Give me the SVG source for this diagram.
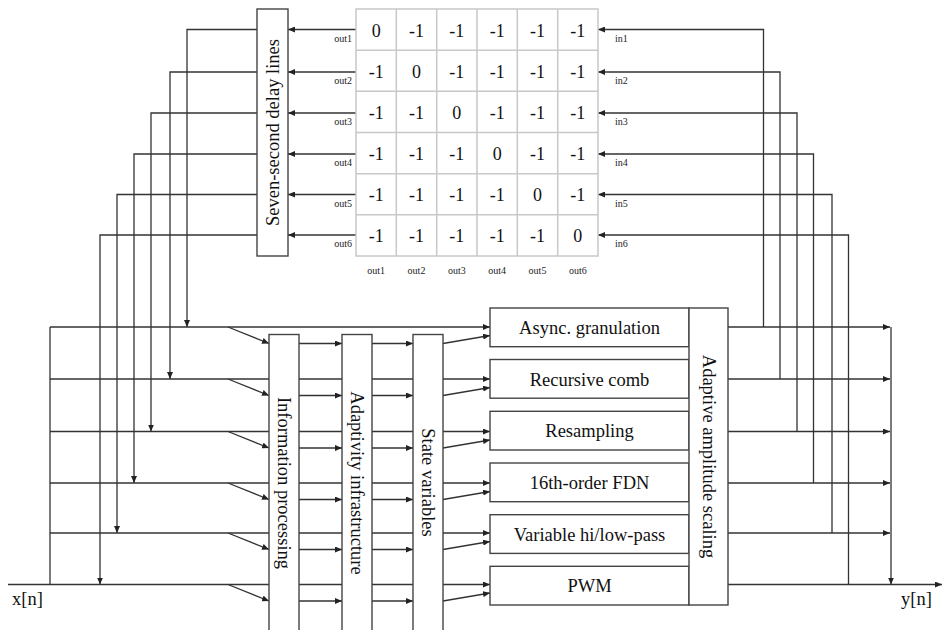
<svg xmlns="http://www.w3.org/2000/svg" width="943" height="630" viewBox="0 0 943 630">
<style>
  .box { fill: #fff; stroke: #444; stroke-width: 1.4; }
  .grid { fill: none; stroke: #c8c8c8; stroke-width: 1.5; }
  .ln { fill: none; stroke: #333; stroke-width: 1.3; }
  .arr { marker-end: url(#ah); }
  .lbl { font-family: "Liberation Serif", "Times New Roman", serif; font-size: 18.5px; fill: #111; text-anchor: middle; }
  .io { font-family: "Liberation Serif", "Times New Roman", serif; font-size: 18.5px; fill: #111; text-anchor: start; }
  .num { font-family: "Liberation Serif", "Times New Roman", serif; font-size: 18px; fill: #111; text-anchor: middle; }
  .sm { font-family: "Liberation Serif", "Times New Roman", serif; font-size: 10px; fill: #222; }
</style>
<defs>
  <marker id="ah" markerUnits="userSpaceOnUse" markerWidth="8" markerHeight="6" refX="7" refY="3" orient="auto">
    <path d="M0,0 L7,3 L0,6 z" fill="#222"/>
  </marker>
</defs>
<rect width="943" height="630" fill="#fff"/>

<g id="connectors">
  <!-- delay outputs down to buses -->
  <path class="ln arr" d="M257,29.5 H187 V327"/>
  <path class="ln arr" d="M257,72 H170 V379"/>
  <path class="ln arr" d="M257,113 H151 V431.5"/>
  <path class="ln arr" d="M257,154 H134 V483"/>
  <path class="ln arr" d="M257,194.5 H117 V533"/>
  <path class="ln arr" d="M257,235 H100 V584.5"/>
  <!-- matrix to delay lines -->
  <path class="ln arr" d="M356,29.5 H288"/>
  <path class="ln arr" d="M356,72 H288"/>
  <path class="ln arr" d="M356,113 H288"/>
  <path class="ln arr" d="M356,154 H288"/>
  <path class="ln arr" d="M356,194.5 H288"/>
  <path class="ln arr" d="M356,235 H288"/>
  <!-- outputs back to matrix inputs -->
  <path class="ln arr" d="M763.5,327 V29.5 H598"/>
  <path class="ln arr" d="M780,379 V72 H598"/>
  <path class="ln arr" d="M797,431.5 V113 H598"/>
  <path class="ln arr" d="M813.5,483 V154 H598"/>
  <path class="ln arr" d="M832,533 V194.5 H598"/>
  <path class="ln arr" d="M848.5,584.5 V235 H598"/>
  <!-- left bus -->
  <path class="ln" d="M50,327 V584.5"/>
  <path class="ln arr" d="M50,327 H490"/>
  <path class="ln" d="M50,379 H269"/>
  <path class="ln" d="M50,431.5 H269"/>
  <path class="ln" d="M50,483 H269"/>
  <path class="ln" d="M50,533 H269"/>
  <path class="ln" d="M8,584.5 H269"/>
  <!-- diagonals into information processing -->
  <path class="ln arr" d="M228,327 L269,343.5"/>
  <path class="ln arr" d="M228,379 L269,395.5"/>
  <path class="ln arr" d="M228,431.5 L269,448"/>
  <path class="ln arr" d="M228,483 L269,499.5"/>
  <path class="ln arr" d="M228,533 L269,549.5"/>
  <path class="ln arr" d="M228,584.5 L269,601"/>
  <!-- info -> adaptivity -->
  <path class="ln" d="M299,379 H342"/>
  <path class="ln" d="M299,431.5 H342"/>
  <path class="ln" d="M299,483 H342"/>
  <path class="ln" d="M299,533 H342"/>
  <path class="ln" d="M299,584.5 H342"/>
  <path class="ln arr" d="M299,343.5 H342"/>
  <path class="ln arr" d="M299,395.5 H342"/>
  <path class="ln arr" d="M299,448 H342"/>
  <path class="ln arr" d="M299,499.5 H342"/>
  <path class="ln arr" d="M299,549.5 H342"/>
  <path class="ln arr" d="M299,601 H342"/>
  <!-- adaptivity -> state -->
  <path class="ln" d="M372,379 H413"/>
  <path class="ln" d="M372,431.5 H413"/>
  <path class="ln" d="M372,483 H413"/>
  <path class="ln" d="M372,533 H413"/>
  <path class="ln" d="M372,584.5 H413"/>
  <path class="ln arr" d="M372,343.5 H413"/>
  <path class="ln arr" d="M372,395.5 H413"/>
  <path class="ln arr" d="M372,448 H413"/>
  <path class="ln arr" d="M372,499.5 H413"/>
  <path class="ln arr" d="M372,549.5 H413"/>
  <path class="ln arr" d="M372,601 H413"/>
  <!-- state -> processors -->
  <path class="ln arr" d="M443,379 H490"/>
  <path class="ln arr" d="M443,431.5 H490"/>
  <path class="ln arr" d="M443,483 H490"/>
  <path class="ln arr" d="M443,533 H490"/>
  <path class="ln arr" d="M443,584.5 H490"/>
  <path class="ln arr" d="M443,343.5 L490,335.5"/>
  <path class="ln arr" d="M443,395.5 L490,387.5"/>
  <path class="ln arr" d="M443,448 L490,440"/>
  <path class="ln arr" d="M443,499.5 L490,491.5"/>
  <path class="ln arr" d="M443,549.5 L490,541.5"/>
  <path class="ln arr" d="M443,601 L490,593"/>
  <!-- right bus -->
  <path class="ln arr" d="M728,327 H890"/>
  <path class="ln arr" d="M728,379 H890"/>
  <path class="ln arr" d="M728,431.5 H890"/>
  <path class="ln arr" d="M728,483 H890"/>
  <path class="ln arr" d="M728,533 H890"/>
  <path class="ln arr" d="M891,327 V584.5"/>
  <path class="ln arr" d="M728,584.5 H942"/>
</g>

<g id="matrix">
  <rect class="grid" x="356" y="9" width="242" height="247"/>
  <path class="grid" d="M396.3,9 V256 M436.7,9 V256 M477,9 V256 M517.3,9 V256 M557.7,9 V256 M356,50.2 H598 M356,91.3 H598 M356,132.5 H598 M356,173.7 H598 M356,214.8 H598"/>
  <g class="num">
    <text x="376.2" y="36.5">0</text><text x="416.5" y="36.5">-1</text><text x="456.8" y="36.5">-1</text><text x="497.2" y="36.5">-1</text><text x="537.5" y="36.5">-1</text><text x="577.8" y="36.5">-1</text>
    <text x="376.2" y="77.7">-1</text><text x="416.5" y="77.7">0</text><text x="456.8" y="77.7">-1</text><text x="497.2" y="77.7">-1</text><text x="537.5" y="77.7">-1</text><text x="577.8" y="77.7">-1</text>
    <text x="376.2" y="118.9">-1</text><text x="416.5" y="118.9">-1</text><text x="456.8" y="118.9">0</text><text x="497.2" y="118.9">-1</text><text x="537.5" y="118.9">-1</text><text x="577.8" y="118.9">-1</text>
    <text x="376.2" y="160">-1</text><text x="416.5" y="160">-1</text><text x="456.8" y="160">-1</text><text x="497.2" y="160">0</text><text x="537.5" y="160">-1</text><text x="577.8" y="160">-1</text>
    <text x="376.2" y="201.2">-1</text><text x="416.5" y="201.2">-1</text><text x="456.8" y="201.2">-1</text><text x="497.2" y="201.2">-1</text><text x="537.5" y="201.2">0</text><text x="577.8" y="201.2">-1</text>
    <text x="376.2" y="242.4">-1</text><text x="416.5" y="242.4">-1</text><text x="456.8" y="242.4">-1</text><text x="497.2" y="242.4">-1</text><text x="537.5" y="242.4">-1</text><text x="577.8" y="242.4">0</text>
  </g>
  <g class="sm" text-anchor="end">
    <text x="352" y="41.5">out1</text><text x="352" y="84">out2</text><text x="352" y="125">out3</text><text x="352" y="166">out4</text><text x="352" y="206.5">out5</text><text x="352" y="247">out6</text>
  </g>
  <g class="sm">
    <text x="615" y="41.5">in1</text><text x="615" y="84">in2</text><text x="615" y="125">in3</text><text x="615" y="166">in4</text><text x="615" y="206.5">in5</text><text x="615" y="247">in6</text>
  </g>
  <g class="sm" text-anchor="middle">
    <text x="376.2" y="274">out1</text><text x="416.5" y="274">out2</text><text x="456.8" y="274">out3</text><text x="497.2" y="274">out4</text><text x="537.5" y="274">out5</text><text x="577.8" y="274">out6</text>
  </g>
</g>

<g id="delay-lines">
  <rect class="box" x="257" y="9" width="31" height="247"/>
  <text class="lbl" transform="translate(272.5,132.5) rotate(-90)" x="0" y="6">Seven-second delay lines</text>
</g>
<g id="information-processing">
  <rect class="box" x="269" y="334.5" width="30" height="310"/>
  <text class="lbl" transform="translate(284,483) rotate(90)" x="0" y="6">Information processing</text>
</g>
<g id="adaptivity-infrastructure">
  <rect class="box" x="342" y="334.5" width="30" height="310"/>
  <text class="lbl" transform="translate(357,483) rotate(90)" x="0" y="6">Adaptivity infrastructure</text>
</g>
<g id="state-variables">
  <rect class="box" x="413" y="334.5" width="30" height="310"/>
  <text class="lbl" transform="translate(428,482.5) rotate(90)" x="0" y="6">State variables</text>
</g>
<g id="async-granulation">
  <rect class="box" x="490" y="308" width="199" height="38.7"/>
  <text class="lbl" x="589.5" y="334">Async. granulation</text>
</g>
<g id="recursive-comb">
  <rect class="box" x="490" y="359.5" width="199" height="38.7"/>
  <text class="lbl" x="589.5" y="385.5">Recursive comb</text>
</g>
<g id="resampling">
  <rect class="box" x="490" y="411.3" width="199" height="38.7"/>
  <text class="lbl" x="589.5" y="437.3">Resampling</text>
</g>
<g id="fdn">
  <rect class="box" x="490" y="463" width="199" height="38.7"/>
  <text class="lbl" x="589.5" y="489">16th-order FDN</text>
</g>
<g id="hi-low-pass">
  <rect class="box" x="490" y="514.7" width="199" height="38.7"/>
  <text class="lbl" x="589.5" y="540.7">Variable hi/low-pass</text>
</g>
<g id="pwm">
  <rect class="box" x="490" y="566.3" width="199" height="38.7"/>
  <text class="lbl" x="589.5" y="592.3">PWM</text>
</g>
<g id="amplitude-scaling">
  <rect class="box" x="689" y="308" width="39" height="297"/>
  <text class="lbl" transform="translate(708.5,456.5) rotate(90)" x="0" y="6">Adaptive amplitude scaling</text>
</g>
<g id="io-labels">
  <text class="io" x="12" y="605">x[n]</text>
  <text class="io" x="901" y="605">y[n]</text>
</g>
</svg>
